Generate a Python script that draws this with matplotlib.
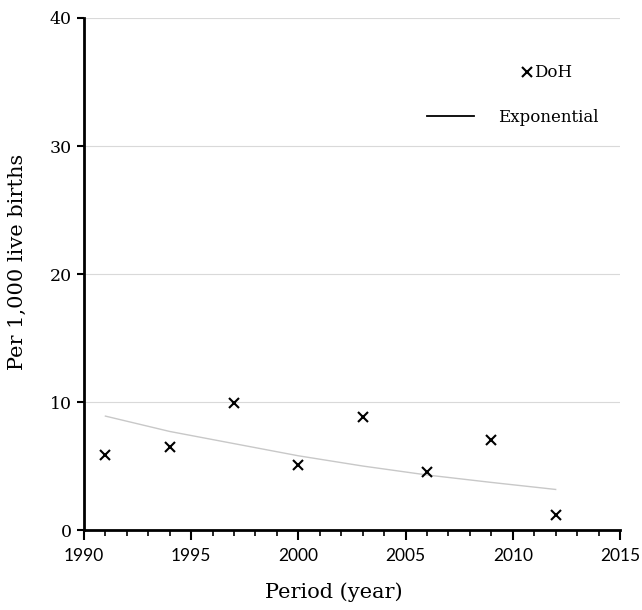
import numpy as np
import matplotlib.pyplot as plt
from matplotlib.ticker import MultipleLocator

# DoH data points
years = [1991, 1994, 1997, 2000, 2003, 2006, 2009, 2012]
doh = [5.85, 6.45, 9.9, 5.05, 8.85, 4.5, 7.0, 1.2]

# exponential trend line values
trend_years = [1991, 1994, 1997, 2000, 2003, 2006, 2009, 2012]
trend_vals = [8.9, 7.7, 6.75, 5.8, 5.0, 4.3, 3.72, 3.17]

serif = ['DejaVu Serif']

fig = plt.figure(figsize=(6.42, 6.10), dpi=100)
ax = fig.add_axes([0.1308, 0.1311, 0.8349, 0.8394])

ax.plot(trend_years, trend_vals, color='#c8c8c8', lw=1.0, zorder=2)
ax.plot(years, doh, ls='none', marker='x', ms=7, mew=1.5, color='black', zorder=3)

ax.set_xlim(1990, 2015)
ax.set_ylim(0, 40)
ax.xaxis.set_major_locator(MultipleLocator(5))
ax.xaxis.set_minor_locator(MultipleLocator(1))
ax.yaxis.set_major_locator(MultipleLocator(10))

ax.grid(axis='y', color='#d9d9d9', lw=0.8, zorder=0)
ax.set_axisbelow(True)

for s in ['top', 'right']:
    ax.spines[s].set_visible(False)
for s in ['left', 'bottom']:
    ax.spines[s].set_linewidth(2.0)

ax.tick_params(axis='x', which='major', length=7, width=1.5, labelsize=12.5, pad=6)
ax.tick_params(axis='x', which='minor', length=4, width=1.2)
ax.tick_params(axis='y', which='major', length=5, width=1.5, labelsize=12.5, pad=4)
for lab in ax.get_xticklabels():
    lab.set_fontfamily(['Lato', 'DejaVu Sans'])
for lab in ax.get_yticklabels():
    lab.set_fontfamily(serif)

ax.set_xlabel('Period (year)', fontsize=15, family=serif)
ax.set_ylabel('Per 1,000 live births', fontsize=15, family=serif)
ax.xaxis.set_label_coords(0.466, -0.103)
ax.yaxis.set_label_coords(-0.106, 0.523)

# legend, drawn by hand to keep the original placement
ax.plot([0.826], [0.894], marker='x', ms=7, mew=1.5, color='black',
        transform=ax.transAxes, clip_on=False)
ax.text(0.84, 0.894, 'DoH', fontsize=12, family=serif, va='center',
        transform=ax.transAxes)
ax.plot([0.64, 0.728], [0.809, 0.809], color='black', lw=1.3,
        transform=ax.transAxes, clip_on=False)
ax.text(0.772, 0.805, 'Exponential', fontsize=12, family=serif, va='center',
        transform=ax.transAxes)

fig.savefig('out.png', dpi=100)
